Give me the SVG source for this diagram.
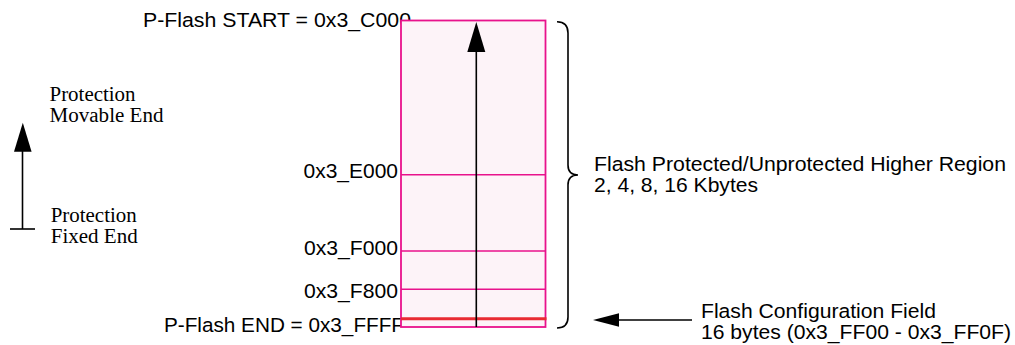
<svg xmlns="http://www.w3.org/2000/svg" width="1015" height="345" viewBox="0 0 1015 345">
<style>
.sans{font-family:"Liberation Sans",Arial,sans-serif;font-size:20.5px;fill:#000}
.serif{font-family:"Liberation Serif","Times New Roman",serif;font-size:20.5px;fill:#000}
.div{stroke:#e8128c;stroke-width:1.6;fill:none}
.blk{stroke:#000;stroke-width:1.6;fill:none}
</style>
<rect width="1015" height="345" fill="#fff"/>
<g id="addr-labels">
<text class="sans" x="143" y="27" textLength="268" lengthAdjust="spacingAndGlyphs">P-Flash START = 0x3_C000</text>
<text class="sans" x="303.5" y="177.5" textLength="94.5" lengthAdjust="spacingAndGlyphs">0x3_E000</text>
<text class="sans" x="304" y="255" textLength="94" lengthAdjust="spacingAndGlyphs">0x3_F000</text>
<text class="sans" x="304" y="297.7" textLength="94" lengthAdjust="spacingAndGlyphs">0x3_F800</text>
<text class="sans" x="164" y="331.7" textLength="240" lengthAdjust="spacingAndGlyphs">P-Flash END = 0x3_FFFF</text>
</g>
<g id="flash-block">
<rect x="401" y="20.5" width="144.5" height="306.5" fill="#fdf3f8" stroke="#e8128c" stroke-width="1.8"/>
<line class="div" x1="401" y1="174.7" x2="545.5" y2="174.7"/>
<line class="div" x1="401" y1="251" x2="545.5" y2="251"/>
<line class="div" x1="401" y1="289.3" x2="545.5" y2="289.3"/>
<line x1="401" y1="318.7" x2="546.5" y2="318.7" stroke="#e82a32" stroke-width="3"/>
</g>
<g id="protection-legend">
<text class="serif" x="49.5" y="100.7" textLength="86" lengthAdjust="spacingAndGlyphs">Protection</text>
<text class="serif" x="49.5" y="121.7" textLength="114" lengthAdjust="spacingAndGlyphs">Movable End</text>
<text class="serif" x="50.7" y="221.7" textLength="86" lengthAdjust="spacingAndGlyphs">Protection</text>
<text class="serif" x="50.7" y="243" textLength="87" lengthAdjust="spacingAndGlyphs">Fixed End</text>
</g>
<g id="region-label">
<text class="sans" x="594" y="171" textLength="412" lengthAdjust="spacingAndGlyphs">Flash Protected/Unprotected Higher Region</text>
<text class="sans" x="594" y="191.5" textLength="164" lengthAdjust="spacingAndGlyphs">2, 4, 8, 16 Kbytes</text>
</g>
<g id="config-label">
<text class="sans" x="701" y="318.3" textLength="235" lengthAdjust="spacingAndGlyphs">Flash Configuration Field</text>
<text class="sans" x="701" y="339" textLength="310" lengthAdjust="spacingAndGlyphs">16 bytes (0x3_FF00 - 0x3_FF0F)</text>
</g>
<g id="connectors">
<line class="blk" x1="476.3" y1="50" x2="476.3" y2="327"/>
<polygon points="476.3,22 467.3,52 485.3,52" fill="#000"/>
<line class="blk" x1="22.5" y1="150" x2="22.5" y2="229"/>
<line class="blk" x1="10" y1="229" x2="35" y2="229"/>
<polygon points="22.8,122.7 14,151.7 31.6,151.7" fill="#000"/>
<path class="blk" d="M557,21.7 Q568,21.7 568,33 L568,165 Q568,175 578,175 Q568,175 568,185 L568,317 Q568,328 557,328"/>
<line class="blk" x1="692" y1="320" x2="615" y2="320"/>
<polygon points="593,320 619,313.3 619,326.7" fill="#000"/>
</g>
</svg>
